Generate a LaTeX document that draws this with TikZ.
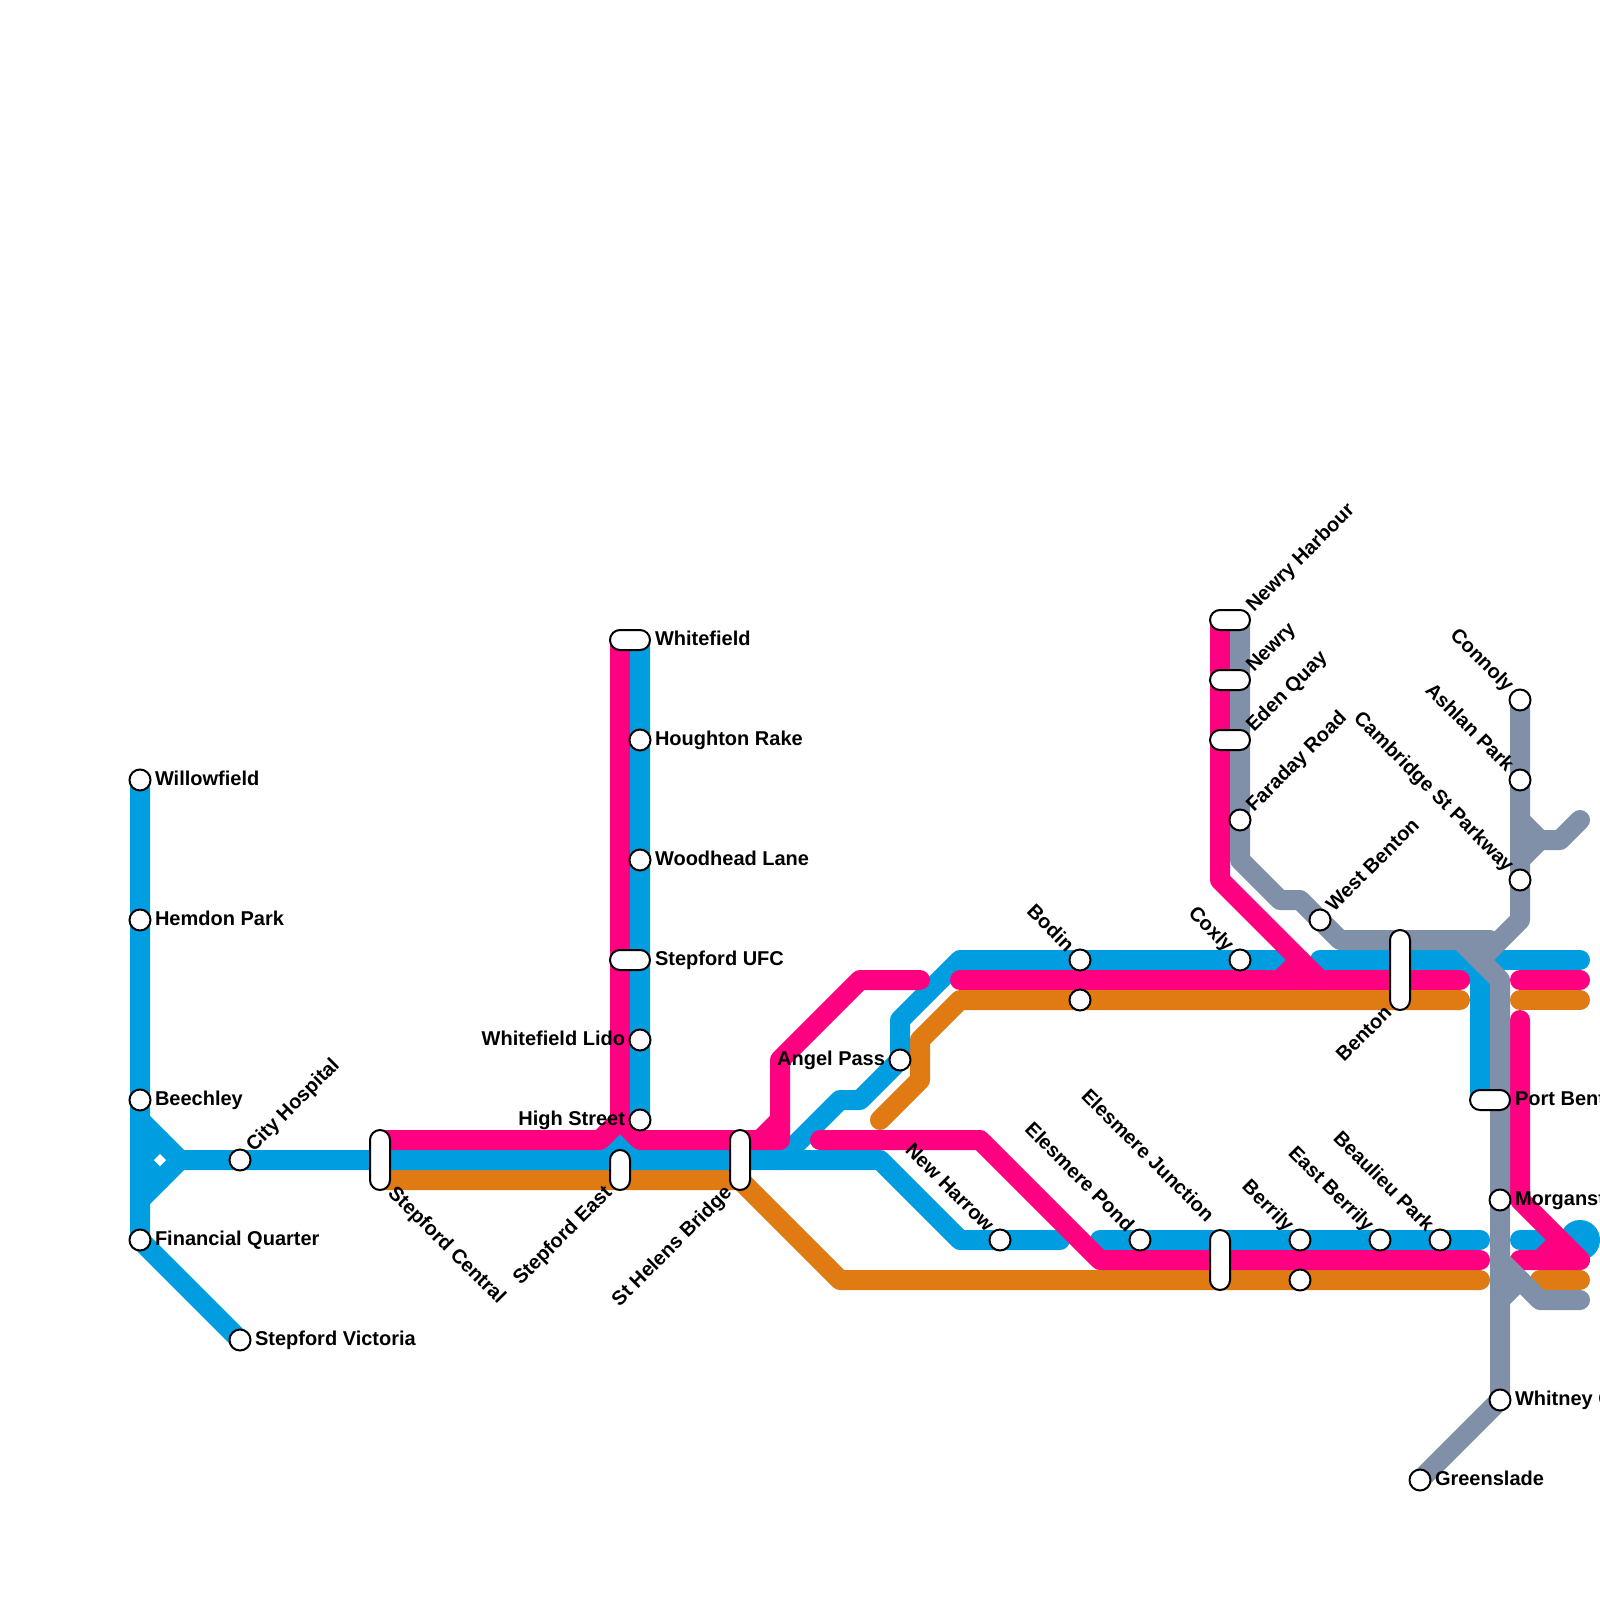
\documentclass[tikz,border=0pt]{standalone}
\usepackage{fontspec}
\setmainfont{Liberation Sans}[BoldFont={Liberation Sans Bold}]
\pgfdeclarelayer{lines}
\pgfsetlayers{lines,main}
\definecolor{lblue}{HTML}{009EE0}
\definecolor{lpink}{HTML}{FF0080}
\definecolor{lorange}{HTML}{E07B14}
\definecolor{lgrey}{HTML}{8090A8}
\tikzset{
  x=0.5pt,y=-0.5pt,
  route/.style={line width=10pt,line cap=round,line join=round},
  blueroute/.style={route,draw=lblue},
  pinkroute/.style={route,draw=lpink},
  orangeroute/.style={route,draw=lorange},
  greyroute/.style={route,draw=lgrey},
  stop/.style={circle,draw=black,fill=white,line width=1pt,minimum size=10.5pt,inner sep=0pt,outer sep=0pt},
  vpill/.style={rectangle,rounded corners=5pt,draw=black,fill=white,line width=1pt,minimum width=10pt,inner sep=0pt,outer sep=0pt},
  hpill/.style={rectangle,rounded corners=5pt,draw=black,fill=white,line width=1pt,minimum height=10pt,inner sep=0pt,outer sep=0pt},
  lab/.style={inner sep=0pt,outer sep=0pt,font=\fontsize{10}{12}\selectfont\bfseries,text=black},
  labE/.style={lab,anchor=base west,xshift=7.5pt,yshift=-2.8pt},
  labW/.style={lab,anchor=base east,xshift=-7.5pt,yshift=-2.8pt},
  labNE/.style={lab,rotate=45,anchor=base west,xshift=7.5pt,yshift=-2.4pt},
  labSW/.style={lab,rotate=45,anchor=base east,xshift=-7.5pt,yshift=-2.4pt},
  labNW/.style={lab,rotate=-45,anchor=base east,xshift=-7.5pt,yshift=-2.4pt},
  labSE/.style={lab,rotate=-45,anchor=base west,xshift=7.5pt,yshift=-2.4pt},
}
\begin{document}
\begin{tikzpicture}
\useasboundingbox (0,0) rectangle (1600,1600);
% stations
\node[stop] (willowfield) at (140,780) {};
\node[stop] (hemdon) at (140,920) {};
\node[stop] (beechley) at (140,1100) {};
\node[stop] (financial) at (140,1240) {};
\node[stop] (victoria) at (240,1340) {};
\node[stop] (cityhosp) at (240,1160) {};
\node[vpill,minimum height=30pt] (central) at (380,1160) {};
\node[vpill,minimum height=20pt] (stepeast) at (620,1170) {};
\node[vpill,minimum height=30pt] (sthelens) at (740,1160) {};
\node[hpill,minimum width=20pt] (whitefield) at (630,640) {};
\node[stop] (houghton) at (640,740) {};
\node[stop] (woodhead) at (640,860) {};
\node[hpill,minimum width=20pt] (ufc) at (630,960) {};
\node[stop] (lido) at (640,1040) {};
\node[stop] (high) at (640,1120) {};
\node[stop] (angel) at (900,1060) {};
\node[stop] (harrow) at (1000,1240) {};
\node[stop] (bodin) at (1080,960) {};
\node[stop] (bodinb) at (1080,1000) {};
\node[stop] (pond) at (1140,1240) {};
\node[vpill,minimum height=30pt] (junction) at (1220,1260) {};
\node[stop] (berrily) at (1300,1240) {};
\node[stop] (berrilyb) at (1300,1280) {};
\node[stop] (eastb) at (1380,1240) {};
\node[stop] (beaulieu) at (1440,1240) {};
\node[hpill,minimum width=20pt] (harbour) at (1230,620) {};
\node[hpill,minimum width=20pt] (newry) at (1230,680) {};
\node[hpill,minimum width=20pt] (eden) at (1230,740) {};
\node[stop] (faraday) at (1240,820) {};
\node[stop] (coxly) at (1240,960) {};
\node[stop] (westb) at (1320,920) {};
\node[vpill,minimum height=40pt] (benton) at (1400,970) {};
\node[stop] (connoly) at (1520,700) {};
\node[stop] (ashlan) at (1520,780) {};
\node[stop] (cambridge) at (1520,880) {};
\node[hpill,minimum width=20pt] (port) at (1490,1100) {};
\node[stop] (morgan) at (1500,1200) {};
\node[stop] (whitney) at (1500,1400) {};
\node[stop] (greenslade) at (1420,1480) {};
% labels
\node[labE] (t1) at (140,780) {Willowfield};
\node[labE] (t2) at (140,920) {Hemdon Park};
\node[labE] (t3) at (140,1100) {Beechley};
\node[labE] (t4) at (140,1240) {Financial Quarter};
\node[labE] (t5) at (240,1340) {Stepford Victoria};
\node[labNE] (t6) at (240,1160) {City Hospital};
\node[labSE] (t7) at (380,1180) {Stepford Central};
\node[labSW] (t8) at (620,1180) {Stepford East};
\node[labSW] (t9) at (740,1180) {St Helens Bridge};
\node[labE] (t10) at (640,640) {Whitefield};
\node[labE] (t11) at (640,740) {Houghton Rake};
\node[labE] (t12) at (640,860) {Woodhead Lane};
\node[labE] (t13) at (640,960) {Stepford UFC};
\node[labW] (t14) at (640,1040) {Whitefield Lido};
\node[labW] (t15) at (640,1120) {High Street};
\node[labW] (t16) at (900,1060) {Angel Pass};
\node[labNW] (t17) at (1000,1240) {New Harrow};
\node[labNW] (t18) at (1080,960) {Bodin};
\node[labNW] (t19) at (1140,1240) {Elesmere Pond};
\node[labNW] (t20) at (1220,1230) {Elesmere Junction};
\node[labNW] (t21) at (1300,1240) {Berrily};
\node[labNW] (t22) at (1380,1240) {East Berrily};
\node[labNW] (t23) at (1440,1240) {Beaulieu Park};
\node[labNE] (t24) at (1240,620) {Newry Harbour};
\node[labNE] (t25) at (1240,680) {Newry};
\node[labNE] (t26) at (1240,740) {Eden Quay};
\node[labNE] (t27) at (1240,820) {Faraday Road};
\node[labNW] (t28) at (1240,960) {Coxly};
\node[labNE] (t29) at (1320,920) {West Benton};
\node[labSW] (t30) at (1400,1000) {Benton};
\node[labNW] (t31) at (1520,700) {Connoly};
\node[labNW] (t32) at (1520,780) {Ashlan Park};
\node[labNW] (t33) at (1520,880) {Cambridge St Parkway};
\node[labE] (t34) at (1500,1100) {Port Benton};
\node[labE] (t35) at (1500,1200) {Morganstown};
\node[labE] (t36) at (1500,1400) {Whitney Cross};
\node[labE] (t37) at (1420,1480) {Greenslade};
\begin{pgfonlayer}{lines}
% orange
\draw[orangeroute] (380,1180) -- (740,1180) -- (840,1280) -- (1480,1280);
\draw[orangeroute] (880,1120) -- (920,1080) -- (920,1040) -- (960,1000) -- (1460,1000);
\draw[orangeroute] (1540,1280) -- (1580,1280);
\draw[orangeroute] (1520,1000) -- (1580,1000);
% blue
\fill[lblue] (1580,1240) circle (20);
\draw[blueroute] (willowfield.center) -- (financial.center) -- (victoria.center);
\draw[blueroute] (140,1120) -- (180,1160);
\draw[blueroute] (140,1200) -- (180,1160);
\draw[blueroute] (140,1160) -- (160,1140);
\draw[blueroute] (140,1160) -- (160,1180);
\draw[blueroute] (180,1160) -- (880,1160) -- (960,1240) -- (1060,1240);
\draw[blueroute] (whitefield.center -| high) -- (high.center) -- (620,1140) -- (640,1160);
\draw[blueroute] (620,1140) -- (600,1160);
\draw[blueroute] (780,1160) -- (840,1100) -- (860,1100) -- (angel.center) -- (900,1020) -- (960,960) -- (1290,960);
\draw[blueroute] (1320,960) -- (1460,960) -- (1480,980) -- (1480,1100);
\draw[blueroute] (1460,960) -- (1580,960);
\draw[blueroute] (1100,1240) -- (1480,1240);
\draw[blueroute] (1520,1240) -- (1560,1240);
% pink
\draw[pinkroute] (620,640) -- (620,1120);
\draw[pinkroute] (380,1140) -- (600,1140) -- (620,1120) -- (640,1140) -- (780,1140) -- (780,1060) -- (860,980) -- (920,980);
\draw[pinkroute] (760,1140) -- (780,1120);
\draw[pinkroute] (820,1140) -- (980,1140) -- (1100,1260) -- (1480,1260);
\draw[pinkroute] (960,980) -- (1460,980);
\draw[pinkroute] (1220,620) -- (1220,880) -- (1320,980);
\draw[pinkroute] (1280,980) -- (1300,960);
\draw[pinkroute] (1520,980) -- (1580,980);
\draw[pinkroute] (1520,1020) -- (1520,1200) -- (1580,1260) -- (1520,1260);
\draw[pinkroute] (1540,1260) -- (1560,1240);
% grey
\draw[greyroute] (1240,620) -- (1240,860) -- (1280,900) -- (1300,900) -- (1340,940) -- (1490,940);
\draw[greyroute] (1460,940) -- (1500,980) -- (whitney.center) -- (greenslade.center);
\draw[greyroute] (connoly.center) -- (1520,920) -- (1480,960);
\draw[greyroute] (1520,820) -- (1540,840) -- (1560,840) -- (1580,820);
\draw[greyroute] (1520,860) -- (1540,840);
\draw[greyroute] (1500,1260) -- (1540,1300) -- (1580,1300);
\draw[greyroute] (1500,1300) -- (1520,1280);
% small gap in the blue junction
\fill[white] (154,1160) -- (160,1154) -- (166,1160) -- (160,1166) -- cycle;
\end{pgfonlayer}
\end{tikzpicture}
\end{document}
